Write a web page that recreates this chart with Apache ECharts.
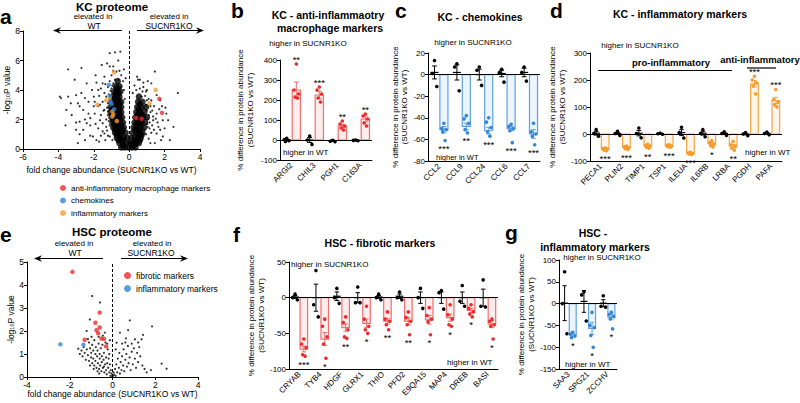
<!DOCTYPE html>
<html><head><meta charset="utf-8">
<script src="https://cdn.jsdelivr.net/npm/echarts/dist/echarts.min.js"></script>
<style>html,body{margin:0;padding:0;background:#fff}#c{width:800px;height:403px}</style>
</head><body><div id="c"></div>
<script>
// ---------- DATA ----------
// Panel a: KC proteome volcano (x = fold change, y = -log10 P)
const kcCore = [
[-0.45,0.1],[-0.25,0.1],[-0.05,0.1],[0.15,0.1],[0.35,0.1],
[-0.55,0.4],[-0.35,0.4],[-0.15,0.4],[0.05,0.4],[0.22,0.4],[0.4,0.4],[0.55,0.4],
[-0.7,0.75],[-0.5,0.75],[-0.3,0.75],[-0.12,0.75],[0.12,0.75],[0.3,0.75],[0.5,0.75],[0.65,0.75],
[-0.8,1.1],[-0.6,1.1],[-0.4,1.1],[-0.2,1.1],[0.2,1.1],[0.4,1.1],[0.6,1.1],[0.75,1.1],
[-0.9,1.45],[-0.7,1.45],[-0.5,1.45],[-0.3,1.45],[0.25,1.45],[0.45,1.45],[0.65,1.45],[0.85,1.45],
[-0.95,1.8],[-0.75,1.8],[-0.55,1.8],[-0.35,1.8],[0.3,1.8],[0.5,1.8],[0.7,1.8],[0.9,1.8],
[-1.0,2.15],[-0.8,2.15],[-0.6,2.15],[-0.4,2.15],[0.35,2.15],[0.55,2.15],[0.8,2.15],[1.0,2.15],
[-1.05,2.5],[-0.85,2.5],[-0.65,2.5],[-0.45,2.5],[0.4,2.5],[0.6,2.5],[0.85,2.5],
[-1.05,2.85],[-0.85,2.85],[-0.65,2.85],[-0.45,2.85],[0.45,2.85],[0.7,2.85],[0.95,2.85],
[-1.0,3.2],[-0.8,3.2],[-0.6,3.2],[-0.45,3.2],[0.5,3.2],[0.75,3.2],
[-0.95,3.55],[-0.75,3.55],[-0.55,3.55],[0.55,3.55],
[-0.85,3.9],[-0.65,3.9],[-0.5,3.9],
[-0.75,4.25],[-0.55,4.25],
[-0.65,4.6],
[-0.35,0.25],[0.25,0.25],[-0.6,0.6],[-0.4,0.6],[0.4,0.6],[0.6,0.6],[-0.7,0.95],[-0.5,0.95],[0.5,0.95],[0.7,0.95],
[-0.8,1.3],[-0.6,1.3],[-0.4,1.3],[0.35,1.3],[0.55,1.3],[-0.85,1.65],[-0.65,1.65],[-0.45,1.65],[0.4,1.65],[0.6,1.65],
[-0.9,2.0],[-0.7,2.0],[-0.5,2.0],[0.45,2.0],[0.65,2.0],[-0.95,2.35],[-0.75,2.35],[-0.55,2.35],[0.5,2.35],[0.7,2.35],
[-0.95,2.7],[-0.75,2.7],[-0.55,2.7],[0.55,2.7],[-0.9,3.05],[-0.7,3.05],[-0.55,3.05],[0.6,3.05],[-0.85,3.4],[-0.65,3.4],
[-0.75,3.75],[-0.6,3.75],[-0.7,4.1]
];
const kcOther = [
[-3.92,3.55],[-3.85,3.45],[-3.45,5.4],[-3.45,3.55],[-3.08,4.7],[-3.0,3.65],[-2.9,3.1],[-2.8,2.9],[-2.7,5.5],[-2.6,2.65],
[-2.5,3.45],[-2.4,4.45],[-2.2,2.1],[-2.1,4.0],[-2.0,3.55],[-2.6,1.3],[-1.95,3.2],[-1.9,5.0],[-1.75,4.0],[-1.65,3.0],
[-1.55,5.7],[-1.5,4.45],[-1.4,4.9],[-1.3,3.55],[-1.25,5.8],[-1.1,6.5],[-0.8,6.55],[-0.9,5.6],[-0.72,5.25],[-0.62,6.0],
[-1.65,1.95],[-1.95,2.4],[-2.3,2.4],[-2.2,1.6],[-1.5,1.75],[-1.75,1.4],[-2.05,0.85],[-1.4,1.05],[-1.1,0.85],[-2.5,0.6],
[-1.4,2.65],[-1.2,2.3],[-0.9,4.45],[-0.8,4.0],[-0.6,4.7],[-0.5,4.2],
[0.5,4.7],[0.8,4.2],[1.0,4.0],[1.25,4.45],[1.45,5.25],[1.55,3.65],[1.75,3.3],[1.85,2.9],[2.1,2.4],[2.2,1.95],
[2.3,0.6],[2.5,1.5],[2.75,3.8],[1.9,1.95],[1.55,2.4],[1.35,1.95],[1.2,2.9],[1.0,3.3],[1.55,1.05],[1.75,1.3],
[1.05,1.5],[1.9,0.85],[0.7,3.55],[0.4,4.0],
[-3.0,1.3],[-3.25,2.3],[-3.55,2.65],[-2.4,1.75],[-1.85,0.6],[-2.8,1.85],
[-1.3,2.0],[-1.25,2.8],[-1.4,3.8],[-1.2,4.2],[-1.1,4.6],[-1.0,5.0],[-0.9,5.3],[-0.45,5.0],[-0.35,4.6],[-1.5,1.2],
[-1.3,1.5],[-1.2,0.9],[-0.95,0.6],[1.1,0.7],[1.25,1.1],[1.3,1.6],[1.35,2.2],[1.2,2.5],[1.1,3.4],[0.9,3.6],
[0.75,3.9],[0.6,4.1],[1.4,2.9],[1.05,2.0],[1.15,1.4],[0.95,1.0],[0.3,4.3],[-0.3,4.0],[-0.25,3.4],[-1.6,2.3],
[-1.7,3.6],[-1.5,3.2],[-1.45,2.6],[-2.0,2.9],[-1.85,4.5],[-2.3,3.2],[-1.1,5.6],[-0.3,5.4],[-0.5,6.6],[0.6,4.7],
[0.2,3.8],[1.6,1.8],[1.7,2.7],[1.45,0.4],[-1.7,0.5],[-2.2,0.9],[-2.8,1.0],[-3.0,1.8],[-2.9,0.4],[2.0,1.4],
[0.8,4.5],[-1.15,1.9],[-1.2,3.1],[-1.15,3.7],[-1.0,4.1],[1.0,2.6],[1.1,2.3],[0.95,3.0],[1.15,1.8],[0.85,1.3],[1.0,1.7],
[-1.25,1.25],[-1.1,1.6],[-1.2,2.55],[-1.1,3.35],[-1.05,3.95],[-0.95,4.3],[-0.8,4.7],[-0.55,5.3],[-1.35,4.4],[-1.6,4.1],
[-1.75,2.9],[-1.9,1.7],[-1.6,0.9],[-1.35,0.6],[1.2,0.4],[1.4,1.3],[1.5,2.05],[1.3,2.6],[1.25,3.3],[0.95,3.9],
[1.65,1.5],[1.05,4.6],[0.45,4.9],[-0.2,4.8],[1.8,0.6],[2.05,2.8],[-2.5,2.0],[-2.7,3.8],[-3.3,3.1],[-3.6,1.6]
];
const kcAntiPts = [[1.7,3.4],[1.85,2.45],[0.4,2.1],[0.7,2.05]];
const kcChemoPts = [[-1.15,4.35],[-1.1,3.6],[-1.05,3.2],[-1.0,3.05],[-0.85,2.7]];
const kcInflPts = [[-0.85,5.2],[-1.1,3.45],[-1.3,3.3],[-1.8,3.0],[-0.95,2.55],[-0.9,2.35],[-0.95,2.2],[-0.7,1.9],[1.5,4.0],[1.15,3.1]];

// Panel e: HSC proteome volcano
const hscOther = [
[-1.6,1.23],[-1.53,1.0],[-1.45,1.15],[-1.4,0.9],[-1.35,1.3],[-1.3,1.05],[-1.25,0.75],[-1.2,1.2],[-1.15,0.95],[-1.1,1.5],
[-1.1,0.7],[-1.05,1.25],[-1.0,0.85],[-1.0,1.05],[-0.95,1.4],[-0.95,0.6],[-0.9,1.15],[-0.9,0.8],[-0.85,1.6],[-0.85,0.5],
[-0.8,1.0],[-0.8,0.7],[-0.78,1.3],[-0.75,0.4],[-0.72,0.9],[-0.7,1.15],[-0.68,0.6],[-0.65,1.45],[-0.63,0.35],[-0.6,0.8],
[-0.6,1.0],[-0.58,0.5],[-0.55,1.25],[-0.52,0.25],[-0.5,0.65],[-0.5,0.9],[-0.47,1.4],[-0.45,0.4],[-0.42,0.75],[-0.4,1.05],
[-0.38,0.2],[-0.35,0.55],[-0.33,1.5],[-0.3,0.85],[-0.3,0.3],[-0.27,0.12],[-0.25,0.6],[-0.22,1.2],[-0.2,0.4],[-0.18,0.8],
[-0.15,0.2],[-0.12,0.55],[-0.1,0.05],[-0.08,0.3],[-0.05,0.15],[-0.02,0.04],[-0.36,1.93],[-0.45,1.8],[-0.12,1.6],[-0.98,1.75],
[-1.21,2.0],[-1.06,2.5],[-0.95,3.52],[-0.58,3.24],[-0.65,1.75],[-1.15,1.65],[-0.7,0.25],[-0.88,0.35],[-1.05,0.5],[-0.4,0.45],
[-0.62,0.15],[-0.15,1.0],[-0.25,1.45],
[0.02,0.05],[0.05,0.2],[0.08,0.1],[0.12,0.35],[0.15,0.05],[0.18,0.55],[0.22,0.2],[0.25,0.8],[0.3,0.4],[0.32,1.05],
[0.35,0.15],[0.38,0.65],[0.42,0.3],[0.45,0.9],[0.5,0.5],[0.52,1.2],[0.55,0.25],[0.6,0.75],[0.65,1.0],[0.68,0.45],
[0.72,1.35],[0.75,0.6],[0.8,0.85],[0.85,0.3],[0.9,1.1],[0.95,0.55],[1.0,1.25],[1.05,0.8],[1.1,0.4],[1.15,1.05],
[1.2,0.65],[1.25,1.3],[1.3,0.9],[1.4,0.5],[1.5,0.35],[1.6,0.2],[1.8,0.3],[2.3,0.58],[2.53,0.36],[0.19,1.49],
[0.35,1.93],[0.63,1.68],[0.73,2.04],[0.81,2.46],[1.05,1.64],[1.36,1.64],[1.43,1.83],[1.85,2.2],[0.45,1.45],[0.9,1.45],
[0.15,1.2],[1.2,1.5],[0.6,1.5]
];
const hscFibPts = [[-1.875,4.57],[-0.6,2.8],[-0.8,2.36],[-0.6,2.15],[-0.75,2.03],[-0.67,1.9],[-0.52,1.67],[-1.3,1.62],[-0.4,1.66],[-0.3,1.33]];
const hscInflPts = [[-2.44,1.42],[-1.36,1.4]];

// Panel b: KC anti-inflammatory macrophage markers (% difference)
const kcAntiCats = ['ARGI2','CHIL3','PGH1','C163A'];
const kcAntiWtMean = [0, 0, -4, -2];
const kcAntiWtSem = [4, 12, 3, 2];
const kcAntiWtDots = [[8,2,-4,-7],[20,0,-22],[-1,-6,-8],[0,-2,-4]];
const kcAntiKoMean = [250, 225, 70, 105];
const kcAntiKoSem = [40, 18, 8, 14];
const kcAntiKoDots = [[380,250,230,215,210],[265,250,230,210,190],[95,80,70,60,50],[130,120,105,85,70]];
const kcAntiStars = ['**','***','**','**'];

// Panel c: KC chemokines
const kcChemoCats = ['CCL2','CCL9','CCL24','CCL6','CCL7'];
const kcChemoWtMean = [2, 2, 0, 1, 2];
const kcChemoWtSem = [6, 7, 5, 3, 4];
const kcChemoWtDots = [[13,1,-11],[10,7,-15],[7,4,-10],[5,2,-7],[7,2,-6]];
const kcChemoKoMean = [-51, -48, -52, -50, -55];
const kcChemoKoSem = [3, 3, 3, 2, 4];
const kcChemoKoDots = [[-45,-50,-51,-53,-61],[-38,-41,-45,-51,-54],[-40,-44,-49,-53,-57],[-46,-48,-50,-52,-63],[-45,-53,-55,-57,-65]];
const kcChemoStars = ['***','**','***','***','***'];

// Panel d: KC inflammatory markers
const kcInflCats = ['PECA1','PLIN2','TIMP1','TSP1','ILEUA','IL6RB','LRBA','PGDH','PAFA'];
const kcInflWtMean = [3, 2, 3, 1, 5, 3, 2, 0, 2];
const kcInflWtSem = [7, 4, 10, 1, 11, 7, 4, 3, 3];
const kcInflWtDots = [[16,2,-8],[10,2,-5],[22,2,-14],[3,1,-1],[25,5,-15],[16,2,-10],[8,2,-5],[5,0,-6],[7,2,-3]];
const kcInflKoMean = [-55, -50, -44, -44, -72, -36, -45, 186, 124];
const kcInflKoSem = [3, 3, 3, 2, 2, 5, 6, 12, 12];
const kcInflKoDots = [[-52,-54,-56,-59,-62],[-45,-48,-51,-54,-57],[-38,-42,-45,-49,-53],[-40,-42,-45,-47,-49],[-68,-70,-72,-74,-76],[-25,-32,-38,-43,-48],[-28,-40,-46,-53,-60],[214,200,190,178,148],[165,128,118,108,100]];
const kcInflStars = ['***','***','**','***','***','*','**','***','***'];

// Panel f: HSC fibrotic markers
const hscFibCats = ['CRYAB','TYB4','HDGF','GLRX1','THIO','PFD2','E9QA15','MAP4','DREB','BASI'];
const hscFibWtMean = [1, 0, 2, 0, 1, 2, 0, 0, 0, 0];
const hscFibWtSem = [2, 19, 6, 7, 2, 3, 8, 8, 8, 12];
const hscFibWtDots = [[5,0,-3],[38,-10,-27],[13,0,-8],[15,-7,-7],[5,0,-3],[8,0,-3],[13,0,-15],[10,7,-16],[17,-5,-12],[25,-12,-13]];
const hscFibKoMean = [-72, -58, -42, -36, -33, -33, -31, -28, -18, -37];
const hscFibKoSem = [4, 9, 5, 6, 4, 5, 6, 5, 3, 5];
const hscFibKoDots = [[-58,-65,-70,-80,-82],[-30,-40,-55,-65,-85],[-27,-35,-45,-55,-57],[-12,-30,-40,-45,-50],[-20,-30,-33,-38,-45],[-20,-28,-33,-38,-52],[-14,-25,-30,-34,-52],[-10,-24,-30,-38,-40],[-10,-15,-20,-23,-27],[-30,-33,-38,-40,-58]];
const hscFibStars = ['***','*','**','*','**','**','*','*','*','*'];

// Panel g: HSC inflammatory markers
const hscInflCats = ['SAA3','SPG21','ZCCHV'];
const hscInflWtMean = [1, 5, 1];
const hscInflWtSem = [40, 25, 8];
const hscInflWtDots = [[73,0,-69],[27,20,-40],[18,-6,-8]];
const hscInflKoMean = [-72, -57, -31];
const hscInflKoSem = [5, 14, 6];
const hscInflKoDots = [[-66,-70,-74,-78],[-20,-50,-55,-73,-100],[-20,-25,-30,-35,-58]];
const hscInflStars = ['*','*','*'];

// ---------- STYLE ----------
const FONT = '"Liberation Sans", Arial, Helvetica, sans-serif';
const RED = '#ee2a2a', RED_L = '#f26d6d', RED_F = 'rgba(242,109,109,0.12)';
const BLUE = '#3487d6', BLUE_L = '#5fa2e4', BLUE_F = 'rgba(95,162,228,0.12)';
const ORANGE = '#f69c2e', ORANGE_L = '#f5a647', ORANGE_F = 'rgba(245,166,71,0.12)';
const AX = {color:'#000', width:1};
const JIT = [0, -2.3, 2.3, -1.2, 1.2];

const chart = echarts.init(document.getElementById('c'), null, {renderer:'svg', width:800, height:403});

const grids = [
  {left:23, top:31, width:177, height:118},
  {left:280, top:60, width:92, height:100},
  {left:428, top:53, width:112, height:108},
  {left:590, top:53, width:192, height:108},
  {left:27, top:262, width:171, height:115},
  {left:289, top:262, width:209, height:107},
  {left:559, top:260, width:58, height:109}
];

const YNAME = '% difference in protein abundance\n(SUCNR1KO vs WT)';
function catX(g, cats){
  return {type:'category', gridIndex:g, data:cats,
    axisLine:{onZero:false, lineStyle:AX}, axisTick:{alignWithLabel:true, length:3, lineStyle:AX},
    axisLabel:{rotate:45, fontSize:8, color:'#000', margin:4, interval:0, fontFamily:FONT}};
}
function valY(g, min, max, interval, gap){
  return {type:'value', gridIndex:g, min, max, interval,
    axisLine:{show:true, onZero:false, lineStyle:AX}, axisTick:{show:true, length:3, lineStyle:AX},
    splitLine:{show:false}, axisLabel:{fontSize:8, color:'#000', margin:3, fontFamily:FONT},
    name:YNAME, nameLocation:'middle', nameRotate:90, nameGap:gap,
    nameTextStyle:{fontSize:8, color:'#000', lineHeight:9.5, fontFamily:FONT}};
}
function volX(g, min, max, gap){
  return {type:'value', gridIndex:g, min, max, interval:2,
    axisLine:{onZero:false, lineStyle:AX}, axisTick:{length:3, lineStyle:AX}, splitLine:{show:false},
    axisLabel:{fontSize:8.5, color:'#000', margin:3, fontFamily:FONT},
    name:'fold change abundance (SUCNR1KO vs WT)', nameLocation:'middle', nameGap:gap,
    nameTextStyle:{fontSize:8.5, color:'#000', fontFamily:FONT}};
}
function volY(g, min, max, interval, gap){
  return {type:'value', gridIndex:g, min, max, interval,
    axisLine:{show:true, onZero:false, lineStyle:AX}, axisTick:{show:true, length:3, lineStyle:AX}, splitLine:{show:false},
    axisLabel:{fontSize:8.5, color:'#000', margin:3, fontFamily:FONT},
    name:'-log{s|10}P value', nameLocation:'middle', nameRotate:90, nameGap:gap,
    nameTextStyle:{fontSize:8.5, color:'#000', fontFamily:FONT, rich:{s:{fontSize:5.5, verticalAlign:'bottom', fontFamily:FONT}}}};
}

const xAxes = [volX(0,-6,4,16), catX(1,kcAntiCats), catX(2,kcChemoCats), catX(3,kcInflCats), volX(4,-4,4,12), catX(5,hscFibCats), catX(6,hscInflCats)];
const yAxes = [volY(0,0,8,2,12), valY(1,-100,400,100,25), valY(2,-80,20,20,18), valY(3,-100,300,100,18), volY(4,0,5,1,11), valY(5,-100,50,50,21), valY(6,-150,100,50,19)];

function scatterS(ax, data, size, color, name, mark){
  const s = {type:'scatter', name, xAxisIndex:ax, yAxisIndex:ax, data, symbolSize:size, itemStyle:{color}, silent:true};
  if (mark) s.markLine = {silent:true, symbol:['none','none'], label:{show:false},
      lineStyle:{color:'#000', type:[3,2], width:1}, data:[{xAxis:0}]};
  return s;
}

function barPanel(ax, cats, wtMean, wtSem, wtDots, koMean, koSem, koDots, stars, dotCol, lineCol, fillCol){
  const barData = [], dotData = [], starData = [];
  cats.forEach((c,i)=>{
    barData.push([i,0,wtMean[i],wtSem[i]]);
    barData.push([i,1,koMean[i],koSem[i]]);
    wtDots[i].forEach((v,k)=>dotData.push([i,0,v,k]));
    koDots[i].forEach((v,k)=>dotData.push([i,1,v,k]));
    const up = koMean[i] > 0;
    const ext = up ? Math.max(koMean[i]+koSem[i], ...koDots[i]) : Math.min(koMean[i]-koSem[i], ...koDots[i]);
    starData.push([i, ext, up?1:-1]);
  });
  const cx = (api, cat, grp) => api.coord([cat,0])[0] + (grp?1:-1)*api.size([1,0])[0]*0.21;
  return [
    {type:'custom', xAxisIndex:ax, yAxisIndex:ax, data:barData, silent:true, z:2,
      markLine:{silent:true, symbol:['none','none'], label:{show:false}, lineStyle:{color:'#000', type:'solid', width:1}, data:[{yAxis:0}]},
      renderItem(params, api){
        const cat=api.value(0), grp=api.value(1), m=api.value(2), s=api.value(3);
        const band=api.size([1,0])[0], x=cx(api,cat,grp), w=band*0.36;
        const y0=api.coord([cat,0])[1], ym=api.coord([cat,m])[1];
        const yt=api.coord([cat,m+s])[1], yb=api.coord([cat,m-s])[1];
        const c = grp ? lineCol : '#000';
        const kids=[];
        if (grp) kids.push({type:'rect', shape:{x:x-w/2, y:Math.min(y0,ym), width:w, height:Math.abs(ym-y0)}, style:{fill:fillCol, stroke:lineCol, lineWidth:1.2}});
        else kids.push({type:'line', shape:{x1:x-w/2,y1:ym,x2:x+w/2,y2:ym}, style:{stroke:'#000', lineWidth:1.2}});
        const cw = w*0.3;
        kids.push({type:'line', shape:{x1:x,y1:yt,x2:x,y2:yb}, style:{stroke:c, lineWidth:1}});
        kids.push({type:'line', shape:{x1:x-cw,y1:yt,x2:x+cw,y2:yt}, style:{stroke:c, lineWidth:1}});
        kids.push({type:'line', shape:{x1:x-cw,y1:yb,x2:x+cw,y2:yb}, style:{stroke:c, lineWidth:1}});
        return {type:'group', children:kids};
      }},
    {type:'custom', xAxisIndex:ax, yAxisIndex:ax, data:dotData, silent:true, z:3,
      renderItem(params, api){
        const cat=api.value(0), grp=api.value(1), v=api.value(2), k=api.value(3);
        return {type:'circle', shape:{cx:cx(api,cat,grp)+JIT[k%5], cy:api.coord([cat,v])[1], r:1.8}, style:{fill: grp?dotCol:'#000'}};
      }},
    {type:'custom', xAxisIndex:ax, yAxisIndex:ax, data:starData, silent:true, z:3,
      renderItem(params, api){
        const cat=api.value(0), ext=api.value(1), dir=api.value(2);
        const y = api.coord([cat,ext])[1] - dir*6.5 + 1.5;
        return {type:'text', style:{text:stars[params.dataIndex], x:cx(api,cat,1), y, align:'center', verticalAlign:'middle', fontSize:9.5, lineHeight:7, fontFamily:FONT, fill:'#000'}};
      }}
  ];
}

const series = [
  scatterS(0, kcCore, 6.5, '#000', 'kc core', true),
  scatterS(0, kcOther, 2.2, '#000', 'kc other'),
  scatterS(0, kcInflPts, 4.5, ORANGE, 'KC inflammatory markers'),
  scatterS(0, kcChemoPts, 4.5, BLUE, 'KC chemokines'),
  scatterS(0, kcAntiPts, 4.5, RED, 'KC anti-inflammatory macrophage markers'),
  scatterS(4, hscOther, 2.2, '#000', 'hsc other', true),
  scatterS(4, hscFibPts, 4.5, RED, 'HSC fibrotic markers'),
  scatterS(4, hscInflPts, 4.5, BLUE, 'HSC inflammatory markers'),
  ...barPanel(1, kcAntiCats, kcAntiWtMean, kcAntiWtSem, kcAntiWtDots, kcAntiKoMean, kcAntiKoSem, kcAntiKoDots, kcAntiStars, RED, RED_L, RED_F),
  ...barPanel(2, kcChemoCats, kcChemoWtMean, kcChemoWtSem, kcChemoWtDots, kcChemoKoMean, kcChemoKoSem, kcChemoKoDots, kcChemoStars, BLUE, BLUE_L, BLUE_F),
  ...barPanel(3, kcInflCats, kcInflWtMean, kcInflWtSem, kcInflWtDots, kcInflKoMean, kcInflKoSem, kcInflKoDots, kcInflStars, ORANGE, ORANGE_L, ORANGE_F),
  ...barPanel(5, hscFibCats, hscFibWtMean, hscFibWtSem, hscFibWtDots, hscFibKoMean, hscFibKoSem, hscFibKoDots, hscFibStars, RED, RED_L, RED_F),
  ...barPanel(6, hscInflCats, hscInflWtMean, hscInflWtSem, hscInflWtDots, hscInflKoMean, hscInflKoSem, hscInflKoDots, hscInflStars, BLUE, BLUE_L, BLUE_F)
];

// ---------- ANNOTATIONS ----------
function T(x, y, text, size, opt){
  return {type:'text', x, y, silent:true, z:10,
    style:Object.assign({text, fontSize:size, fontFamily:FONT, fill:'#000', align:'center', verticalAlign:'middle'}, opt||{})};
}
const B = {fontWeight:'bold'};
const L = {align:'left'};
function ARROW(x1, x2, y){
  const d = x2 > x1 ? 1 : -1;
  return {type:'group', silent:true, z:10, children:[
    {type:'line', shape:{x1, y1:y, x2:x2-d*4, y2:y}, style:{stroke:'#000', lineWidth:1}},
    {type:'polygon', shape:{points:[[x2,y],[x2-d*8,y-3.2],[x2-d*5.5,y],[x2-d*8,y+3.2]]}, style:{fill:'#000'}}]};
}
function HL(x1, x2, y, w){
  return {type:'line', silent:true, z:10, shape:{x1, y1:y, x2, y2:y}, style:{stroke:'#000', lineWidth:w||1}};
}
const LET = {fontWeight:'bold', align:'left', verticalAlign:'top', fontSize:21};
const graphic = [
  T(0, 6, 'a', 21, LET), T(231, 0, 'b', 21, LET), T(395, 0, 'c', 21, LET), T(550, 0, 'd', 21, LET),
  T(0, 224, 'e', 21, LET), T(233, 224, 'f', 21, LET), T(505, 222, 'g', 21, LET),
  // a
  T(112, 6.5, 'KC proteome', 11.5, B),
  T(93, 16.5, 'elevated in', 8), T(94, 25.5, 'WT', 8.5), T(169, 16.5, 'elevated in', 8), T(169, 25.5, 'SUCNR1KO', 8.5),
  ARROW(122, 53, 30.5), ARROW(137, 204, 30.5),
  // e
  T(112, 231.5, 'HSC proteome', 11.5, B),
  T(74, 243, 'elevated in', 8), T(75, 252.5, 'WT', 8.5), T(152, 243, 'elevated in', 8), T(151, 252.5, 'SUCNR1KO', 8.5),
  ARROW(103, 34, 258.5), ARROW(121, 188, 258.5),
  // b
  T(328, 15, 'KC - anti-inflammaotry', 10.5, B), T(330, 28, 'macrophage markers', 10.5, B),
  T(308, 43, 'higher in SUCNR1KO', 8), T(283, 152, 'higher in WT', 8, L),
  // c
  T(480, 17, 'KC - chemokines', 10.5, B),
  T(473, 42, 'higher in SUCNR1KO', 8), T(436, 157.5, 'higher in WT', 7.5, L),
  // d
  T(680, 14, 'KC - inflammatory markers', 10.5, B),
  T(640, 45, 'higher in SUCNR1KO', 8), T(745, 152, 'higher in WT', 8, L),
  T(671, 62, 'pro-inflammatory', 9.5, B), HL(598, 732, 70.5, 1.2),
  T(760, 59, 'anti-inflammatory', 9.5, B), HL(747, 776, 68, 1.2),
  // f
  T(380, 243, 'HSC - fibrotic markers', 10.5, B),
  T(291, 264, 'higher in SUCNR1KO', 8, L), T(447, 362, 'higher in WT', 8, L),
  // g
  T(593, 233, 'HSC -', 10.5, B), T(595, 247, 'inflammatory markers', 10.5, B),
  T(602, 257, 'higher in SUCNR1KO', 8), T(565, 364.5, 'higher in WT', 8, L)
];

chart.setOption({
  animation:false,
  textStyle:{fontFamily:FONT},
  grid:grids, xAxis:xAxes, yAxis:yAxes, series, graphic,
  legend:[
    {data:['KC anti-inflammatory macrophage markers','KC chemokines','KC inflammatory markers'],
     orient:'vertical', left:55, top:179, itemWidth:6, itemHeight:6, itemGap:4.5, icon:'circle', selectedMode:false,
     formatter:n=>n.replace(/^KC /,''), textStyle:{fontSize:8, color:'#000', fontFamily:FONT}},
    {data:['HSC fibrotic markers','HSC inflammatory markers'],
     orient:'vertical', left:119, top:266, itemWidth:7, itemHeight:7, itemGap:4, icon:'circle', selectedMode:false,
     formatter:n=>n.replace(/^HSC /,''), textStyle:{fontSize:8.5, color:'#000', fontFamily:FONT}}
  ]
});
</script></body></html>
